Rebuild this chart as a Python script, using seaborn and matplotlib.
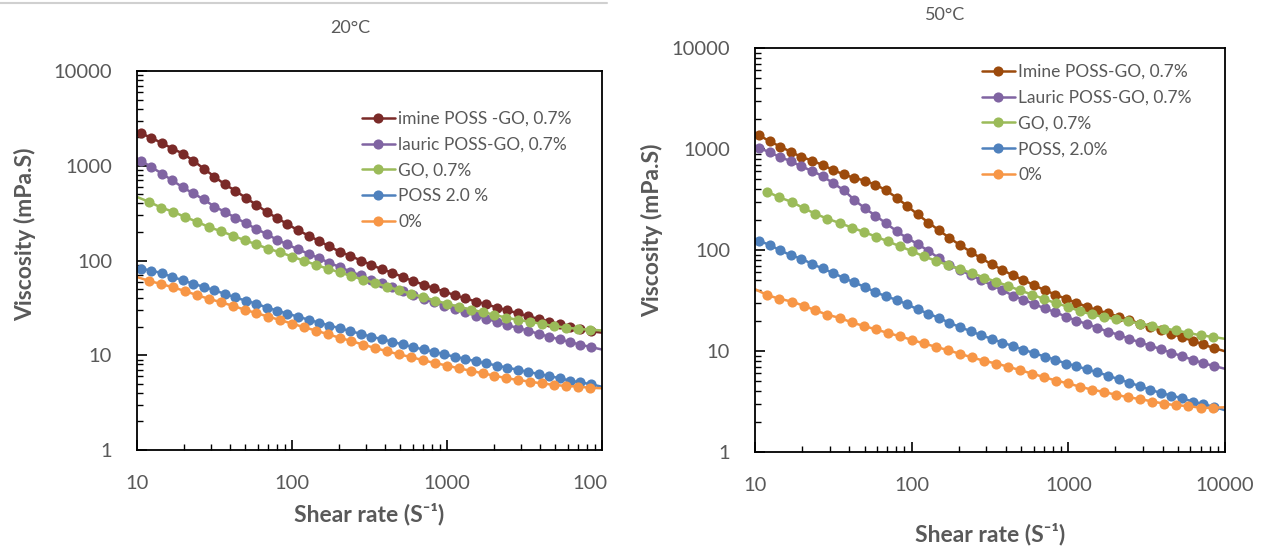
import numpy as np
import pandas as pd
import matplotlib
matplotlib.use("Agg")
import matplotlib.pyplot as plt
from matplotlib.lines import Line2D
from matplotlib.patches import Rectangle
from matplotlib.ticker import LogLocator, FixedLocator, FuncFormatter, NullFormatter
import seaborn as sns

# ---------------- data ----------------
# shear-rate grids (first/last entries lie just outside the axes: line only)
X_FINE = [9.0, 10.6, 12.4, 14.5, 16.9, 19.8, 23.1, 27.0, 31.5, 36.8, 43.0, 50.2, 58.7,
          68.5, 80.1, 93.5, 109, 128, 149, 174, 203, 238, 278, 324, 379, 443, 517, 604,
          706, 824, 963, 1125, 1314, 1535, 1793, 2094, 2446, 2858, 3338, 3899, 4555,
          5321, 6215, 7261, 8482, 11000]
X_COARSE = [9.0, 12.0, 14.3, 17.1, 20.4, 24.3, 29.0, 34.7, 41.4, 49.4, 58.9, 70.3, 83.9,
            100, 119, 143, 170, 203, 242, 289, 345, 412, 492, 587, 700, 836, 998, 1191,
            1421, 1696, 2024, 2415, 2883, 3440, 4106, 4900, 5848, 6979, 8329, 11000]

SERIES_20 = ["imine POSS -GO, 0.7%", "lauric POSS-GO, 0.7%", "GO, 0.7%", "POSS 2.0 %", "0%"]
SERIES_50 = ["Imine POSS-GO, 0.7%", "Lauric POSS-GO, 0.7%", "GO, 0.7%", "POSS, 2.0%", "0%"]

# 20 °C
IMINE_20 = [2470, 2200, 1970, 1730, 1520, 1340, 1130, 930, 770, 637, 546, 460, 388, 327, 280,
            242, 209, 183, 161, 141, 124, 112, 100, 90, 81, 74.5, 67, 60.7, 55.7, 51, 46.9,
            43, 39.9, 36.9, 34.5, 31.9, 29.8, 27.8, 25.8, 24.2, 22.7, 21.3, 20.0, 18.9, 17.9,
            17.0]
LAURIC_20 = [1320, 1130, 968, 824, 700, 590, 510, 441, 371, 327, 283, 249, 215, 191, 165, 148,
             131, 118, 106, 94.6, 85.4, 76.4, 69.5, 62.8, 57.6, 52, 47.7, 43.1, 39.6, 36.3,
             33.3, 30.6, 28.6, 26.2, 24.3, 22.5, 20.8, 19.4, 18.2, 16.8, 15.7, 14.7, 13.8,
             12.9, 12.2, 11.1]
GO_20 = [502, 415, 362, 327, 288, 257, 226, 204, 183, 164, 148, 133, 122, 110, 99.6, 89.9,
         81.8, 75.1, 68.4, 62.8, 57.6, 52.9, 48.5, 44.5, 41.2, 37.8, 35.0, 32.5, 30.3, 28.6,
         26.7, 24.9, 23.6, 22.5, 21.4, 20.3, 19.6, 19.0, 18.6, 18.1]
POSS_20 = [85.5, 81.8, 78.4, 73.2, 67.2, 61.7, 56.6, 52.8, 48.5, 44.5, 40.9, 37.6, 35.1, 31.9,
           29.6, 27.4, 25.6, 23.7, 22.1, 20.6, 19.3, 18.0, 16.8, 15.7, 14.8, 13.9, 13.0, 12.2,
           11.5, 10.9, 10.2, 9.64, 9.16, 8.63, 8.20, 7.79, 7.40, 7.03, 6.68, 6.34, 6.03, 5.73,
           5.40, 5.17, 4.95, 4.48]
ZERO_20 = [71, 60.7, 56.6, 52, 47.7, 43.1, 39.5, 36.3, 33.3, 30.3, 27.8, 25.6, 23.5, 21.6,
           19.8, 18.2, 16.7, 15.3, 14.1, 12.9, 11.9, 11.0, 10.2, 9.57, 8.86, 8.27, 7.79, 7.28,
           6.86, 6.46, 6.08, 5.73, 5.48, 5.26, 5.04, 4.87, 4.74, 4.67, 4.54, 4.45]

# 50 °C
IMINE_50 = [1590, 1374, 1191, 1057, 938, 833, 769, 694, 621, 560, 517, 486, 442, 392, 329, 274,
            225, 187, 157, 132, 112, 96.1, 82.7, 72.2, 63.6, 56.0, 50.5, 44.8, 40.1, 36.2, 32.9,
            30.1, 27.4, 25.3, 23.6, 21.9, 20.3, 18.7, 17.3, 16.0, 14.8, 13.7, 12.6, 11.6, 10.7,
            9.52]
LAURIC_50 = [1155, 1032, 924, 833, 757, 672, 607, 539, 459, 392, 314, 259, 219, 184, 154, 131,
             115, 97.7, 83.3, 71.1, 64.1, 56.0, 50.5, 44.8, 40.1, 35.3, 32.1, 29.2, 26.4, 24.3,
             21.9, 20.0, 18.5, 17.0, 15.5, 14.5, 13.2, 12.2, 11.3, 10.4, 9.61, 8.88, 8.20, 7.57,
             7.11, 6.43]
GO_50 = [np.nan, 377, 332, 300, 260, 228, 204, 185, 167, 151, 136, 122, 109, 97.7, 86.7, 78.2,
         71.1, 64.6, 59.2, 53.4, 48.6, 44.1, 39.8, 36.2, 32.7, 29.7, 27.4, 24.7, 23.0, 21.6,
         20.7, 19.6, 18.7, 17.7, 16.7, 16.0, 15.1, 14.3, 13.8, 12.9]
POSS_50 = [137, 124, 112, 99.2, 88.8, 82.0, 72.8, 65.6, 59.2, 53.0, 47.7, 43.1, 38.3, 34.8, 32.1,
           29.0, 25.9, 23.4, 21.3, 19.0, 17.3, 15.7, 14.3, 13.2, 12.1, 11.2, 10.3, 9.53, 8.81,
           8.20, 7.52, 7.11, 6.57, 6.16, 5.69, 5.26, 4.86, 4.49, 4.14, 3.83, 3.62, 3.40, 3.16,
           2.97, 2.81, 2.47]
ZERO_50 = [44.3, 35.7, 32.9, 30.9, 28.1, 25.3, 22.8, 21.3, 19.2, 17.7, 16.4, 15.1, 14.0, 12.9,
           11.9, 11.0, 10.2, 9.38, 8.66, 8.00, 7.52, 7.00, 6.46, 5.97, 5.51, 5.09, 4.78, 4.42,
           4.14, 3.92, 3.68, 3.48, 3.34, 3.16, 3.01, 2.90, 2.85, 2.74, 2.74, 2.79]

COLORS_20 = ["#7A2A28", "#8064A2", "#9BBB59", "#4F81BD", "#F79646"]
COLORS_50 = ["#9C4A0C", "#8064A2", "#9BBB59", "#4F81BD", "#F79646"]


def build(names, grids, values):
    frames = []
    for n, g, v in zip(names, grids, values):
        frames.append(pd.DataFrame({"series": n, "shear": g, "visc": v}))
    return pd.concat(frames, ignore_index=True).dropna()


df20 = build(SERIES_20, [X_FINE, X_FINE, X_COARSE, X_FINE, X_COARSE],
             [IMINE_20, LAURIC_20, GO_20, POSS_20, ZERO_20])
df50 = build(SERIES_50, [X_FINE, X_FINE, X_COARSE, X_FINE, X_COARSE],
             [IMINE_50, LAURIC_50, GO_50, POSS_50, ZERO_50])

# ---------------- style ----------------
sns.set_style("ticks")
plt.rcParams["font.family"] = ["Lato", "DejaVu Sans"]
GRAY = "#595959"
W, H = 1266, 548
fig = plt.figure(figsize=(W / 100, H / 100), dpi=100)

axL = fig.add_axes([137 / W, 1 - 450 / H, 465 / W, 379 / H])
axR = fig.add_axes([755 / W, 1 - 452 / H, 470 / W, 404 / H])

MS = 7.3
LW = 1.8


def draw(ax, df, names, colors, leg_anchor, ylab_xy, xlab_y):
    pal = dict(zip(names, colors))
    sns.lineplot(data=df, x="shear", y="visc", hue="series", hue_order=names, palette=pal,
                 estimator=None, sort=True, marker="o", markersize=MS, markeredgewidth=0,
                 linewidth=LW, legend=False, ax=ax)
    ax.set_xscale("log")
    ax.set_yscale("log")
    ax.set_xlim(10, 10000)
    ax.set_ylim(1, 10000)
    ax.xaxis.set_major_locator(FixedLocator([10, 100, 1000, 10000]))
    ax.yaxis.set_major_locator(FixedLocator([1, 10, 100, 1000, 10000]))
    ax.xaxis.set_minor_locator(LogLocator(base=10, subs=np.arange(2, 10), numticks=30))
    ax.yaxis.set_minor_locator(LogLocator(base=10, subs=np.arange(2, 10), numticks=30))
    fmt = FuncFormatter(lambda v, p: f"{v:g}")
    ax.xaxis.set_major_formatter(fmt)
    ax.yaxis.set_major_formatter(fmt)
    ax.xaxis.set_minor_formatter(NullFormatter())
    ax.yaxis.set_minor_formatter(NullFormatter())
    ax.tick_params(which="major", direction="in", length=7, width=1.2, color="black",
                   labelsize=14.5, labelcolor=GRAY, pad=18)
    ax.tick_params(which="minor", direction="in", length=4.5, width=1.0, color="black")
    for s in ax.spines.values():
        s.set_visible(True)
        s.set_linewidth(1.3)
        s.set_color("black")
    ax.set_xlabel("Shear rate (S⁻¹)", fontsize=16.5, fontweight="bold", color=GRAY)
    ax.set_ylabel("Viscosity (mPa.S)", fontsize=16.5, fontweight="bold", color=GRAY)
    ax.yaxis.set_label_coords(*ylab_xy)
    ax.xaxis.set_label_coords(0.5, xlab_y)
    handles = [Line2D([], [], color=c, marker="o", markersize=MS, markeredgewidth=0,
                      linewidth=LW) for c in colors]
    leg = ax.legend(handles, names, loc="upper left", bbox_to_anchor=leg_anchor,
                    bbox_transform=fig.transFigure, frameon=False, fontsize=12.5,
                    labelspacing=0.56, handlelength=1.9, handletextpad=0.2, borderpad=0,
                    borderaxespad=0)
    for t in leg.get_texts():
        t.set_color(GRAY)


draw(axL, df20, SERIES_20, COLORS_20, (362 / W, 1 - 111 / H), (-0.218, 0.57), -0.14)
draw(axR, df50, SERIES_50, COLORS_50, (982 / W, 1 - 64 / H), (-0.195, 0.55), -0.175)

fig.text(350 / W, 1 - 28 / H, "20°C", ha="center", va="center", fontsize=13, color=GRAY)
fig.text(945 / W, 1 - 15 / H, "50°C", ha="center", va="center", fontsize=13, color=GRAY)

# cropped edge of the left screenshot
fig.add_artist(Rectangle((607 / W, 1 - 505 / H), 30 / W, 45 / H, transform=fig.transFigure,
                         facecolor="white", edgecolor="none", zorder=20))
fig.add_artist(Line2D([0, 607 / W], [1 - 2.5 / H, 1 - 2.5 / H], transform=fig.transFigure,
                      color="#D0D0D0", linewidth=1.5, zorder=20))

fig.savefig("out.png", dpi=100, facecolor="white")
